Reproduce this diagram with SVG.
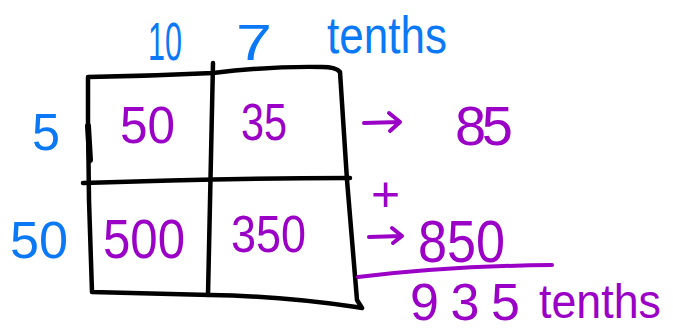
<svg xmlns="http://www.w3.org/2000/svg" width="673" height="333" viewBox="0 0 673 333">
<style>
.grid{fill:none;stroke:#000;stroke-width:4.5;stroke-linecap:round;stroke-linejoin:round}
.pl{fill:none;stroke:#9a00c6;stroke-width:4;stroke-linecap:round;stroke-linejoin:round}
.b{font-family:"Liberation Sans",Arial,sans-serif;fill:#0b78f5;font-size:52px}
.p{font-family:"Liberation Sans",Arial,sans-serif;fill:#9a00c6;font-size:52px}
</style>
<rect width="673" height="333" fill="#fff"/>
<g id="grid">
<path class="grid" d="M92,292 L89,200 L88,120 L88,77 Q150,76 213,73 Q270,66 322,67 Q336,67 340,72 L347,180 L357,300 L362,308 L356,307 Q280,296 210,295 L92,292"/>
<path class="grid" d="M83,183 Q220,178 350,178"/>
<path class="grid" d="M213,63 L208,295"/>
<path class="grid" d="M88,126 L90,160" style="stroke-width:6"/>
</g>
<g id="labels-top">
<text class="b" x="148" y="60" style="font-size:54px" textLength="34" lengthAdjust="spacingAndGlyphs">10</text>
<text class="b" x="236" y="60" style="font-size:50px" textLength="36" lengthAdjust="spacingAndGlyphs">7</text>
<text class="b" x="327" y="53" textLength="120" lengthAdjust="spacingAndGlyphs">tenths</text>
</g>
<g id="labels-left">
<text class="b" x="32" y="150" textLength="28" lengthAdjust="spacingAndGlyphs">5</text>
<text class="b" x="10" y="258" textLength="58" lengthAdjust="spacingAndGlyphs">50</text>
</g>
<g id="cells">
<text class="p" x="120" y="143" textLength="55" lengthAdjust="spacingAndGlyphs">50</text>
<text class="p" x="241" y="140" textLength="46" lengthAdjust="spacingAndGlyphs">35</text>
<text class="p" x="103" y="258" style="font-size:55px" textLength="82" lengthAdjust="spacingAndGlyphs">500</text>
<text class="p" x="231" y="252" textLength="75" lengthAdjust="spacingAndGlyphs">350</text>
</g>
<g id="connectors">
<path class="pl" d="M364,123 L400,122 M389,113 L400,122 L390,131"/>
<path class="pl" d="M369,237 L402,236 M392,228 L402,236 L393,243"/>
<path class="pl" d="M358,277 Q450,266 552,265"/>
</g>
<g id="sum">
<text class="p" x="455" y="145" style="font-size:56px" textLength="58" lengthAdjust="spacing">85</text>
<text class="p" x="371" y="211" style="font-size:50px">+</text>
<text class="p" x="418" y="262" style="font-size:60px" textLength="87" lengthAdjust="spacingAndGlyphs">850</text>
<text class="p" x="410" y="320" style="font-size:52px" textLength="110" lengthAdjust="spacing">935</text>
<text class="p" x="539" y="318" style="font-size:48px" textLength="122" lengthAdjust="spacingAndGlyphs">tenths</text>
</g>
</svg>
